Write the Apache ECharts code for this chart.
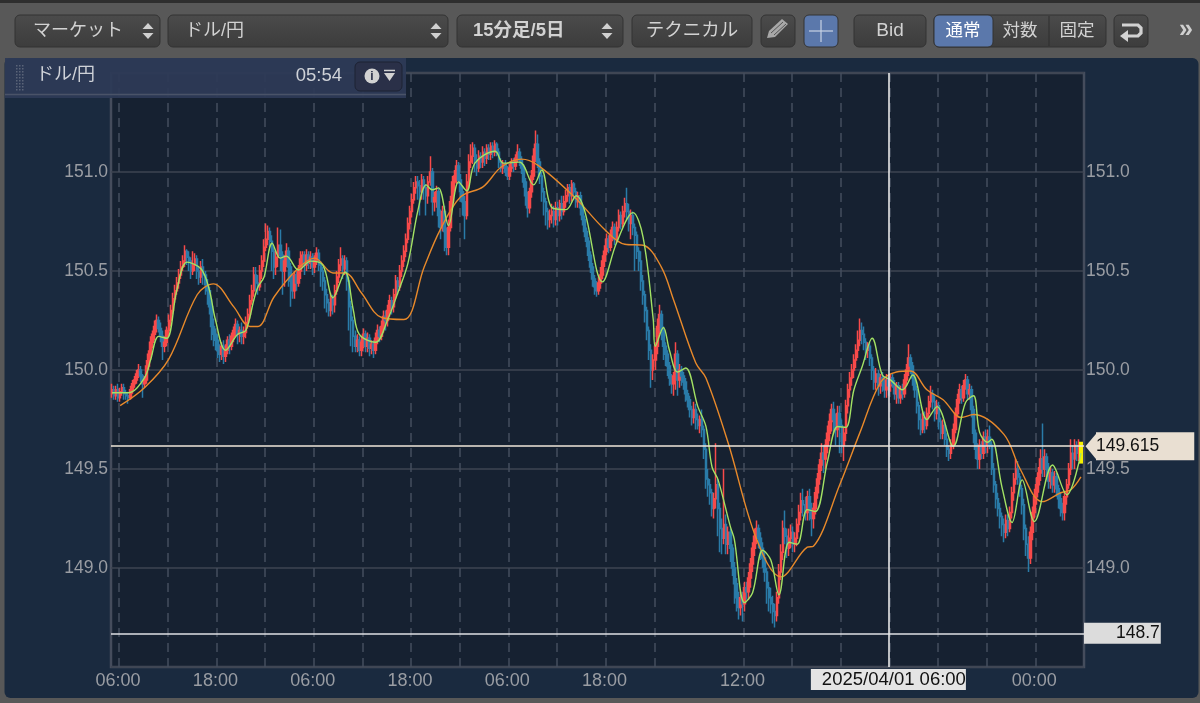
<!DOCTYPE html>
<html><head><meta charset="utf-8">
<style>html,body{margin:0;padding:0;background:#585858;overflow:hidden}#c{width:1200px;height:703px}</style>
<script src="https://cdn.jsdelivr.net/npm/echarts@6/dist/echarts.min.js"></script>
</head><body><div id="c"></div>
<script>
const opens=[
149.88,149.90,149.87,149.90,149.86,149.89,149.91,149.88,149.87,149.86,149.90,149.93,149.95,149.98,150.00,149.97,149.93,149.95,150.02,150.08,150.14,150.18,150.22,150.25,
150.21,150.17,150.12,150.14,150.20,150.25,150.30,150.36,150.40,150.44,150.48,150.52,150.55,150.60,150.57,150.55,150.50,150.53,150.56,150.50,150.47,150.52,150.48,150.43,
150.40,150.32,150.22,150.18,150.15,150.10,150.08,150.12,150.07,150.10,150.15,150.12,150.17,150.20,150.23,150.18,150.20,150.17,150.19,150.24,150.28,150.35,150.40,150.48,
150.44,150.42,150.50,150.55,150.62,150.66,150.70,150.65,150.60,150.52,150.57,150.63,150.58,150.50,150.55,150.60,150.52,150.45,150.40,150.48,150.44,150.50,150.56,150.58,
150.53,150.58,150.54,150.57,150.52,150.55,150.59,150.53,150.50,150.45,150.38,150.34,150.30,150.36,150.33,150.40,150.47,150.53,150.56,150.51,150.55,150.45,150.32,150.25,
150.17,150.12,150.15,150.10,150.14,150.18,150.12,150.16,150.11,150.13,150.10,150.16,150.20,150.17,150.22,150.27,150.25,150.30,150.35,150.32,150.38,150.45,150.42,150.50,
150.55,150.60,150.66,150.74,150.80,150.86,150.92,150.95,150.93,150.90,150.96,150.92,150.88,150.95,151.00,150.85,150.87,150.90,150.78,150.72,150.80,150.70,150.62,150.72,
150.85,150.95,150.98,151.03,150.96,150.90,150.85,150.78,150.95,151.05,151.08,151.12,151.06,151.02,151.08,151.05,151.10,151.07,151.12,151.09,151.13,151.10,151.14,151.10,
151.05,151.02,151.04,151.00,150.98,151.02,151.05,151.03,151.07,151.10,151.06,151.02,150.95,150.88,150.82,150.90,150.98,151.08,151.14,151.05,150.98,150.90,150.85,150.80,
150.76,150.78,150.80,150.76,150.82,150.78,150.84,150.80,150.85,150.88,150.92,150.88,150.94,150.90,150.85,150.88,150.82,150.76,150.70,150.65,150.58,150.52,150.46,150.42,
150.40,150.44,150.48,150.55,150.60,150.66,150.62,150.68,150.72,150.66,150.72,150.78,150.74,150.80,150.84,150.80,150.74,150.78,150.72,150.68,150.60,150.55,150.45,150.38,
150.30,150.20,150.10,150.00,150.05,150.12,150.22,150.28,150.20,150.12,150.08,150.02,149.96,149.93,149.97,150.08,149.95,150.00,149.97,149.94,149.88,149.85,149.80,149.76,
149.80,149.75,149.72,149.75,149.70,149.60,149.45,149.42,149.38,149.30,149.35,149.42,149.30,149.20,149.15,149.22,149.12,149.18,149.10,149.00,148.92,148.85,148.80,148.85,
148.82,148.90,148.88,148.95,149.02,149.10,149.16,149.20,149.15,149.10,149.05,148.98,148.90,148.85,148.82,148.78,148.76,148.85,148.98,149.08,149.20,149.16,149.10,149.15,
149.18,149.12,149.15,149.22,149.28,149.34,149.32,149.28,149.36,149.30,149.25,149.30,149.38,149.45,149.52,149.58,149.55,149.62,149.68,149.74,149.80,149.75,149.70,149.78,
149.72,149.62,149.68,149.82,149.90,149.96,150.00,150.05,150.10,150.15,150.20,150.18,150.14,150.10,150.12,150.06,150.00,149.94,149.98,149.92,149.96,149.94,149.90,149.95,
149.92,149.96,149.93,149.88,149.92,149.86,149.90,149.88,149.95,150.00,150.06,150.02,149.96,149.90,149.82,149.75,149.70,149.76,149.72,149.78,149.84,149.88,149.84,149.78,
149.82,149.74,149.68,149.72,149.65,149.60,149.58,149.62,149.70,149.78,149.85,149.90,149.86,149.92,149.95,149.88,149.90,149.80,149.68,149.60,149.55,149.62,149.58,149.66,
149.62,149.66,149.62,149.50,149.42,149.35,149.30,149.26,149.22,149.18,149.24,149.20,149.28,149.38,149.45,149.50,149.46,149.40,149.32,149.20,149.12,149.05,149.18,149.28,
149.36,149.42,149.48,149.55,149.50,149.56,149.50,149.44,149.48,149.42,149.46,149.40,149.35,149.30,149.28,149.36,149.42,149.50,149.58,149.55,149.62,149.58,149.63];
const closes=[
149.90,149.87,149.90,149.86,149.89,149.91,149.88,149.87,149.86,149.90,149.93,149.95,149.98,150.00,149.97,149.93,149.95,150.02,150.08,150.14,150.18,150.22,150.25,150.21,
150.17,150.12,150.14,150.20,150.25,150.30,150.36,150.40,150.44,150.48,150.52,150.55,150.60,150.57,150.55,150.50,150.53,150.56,150.50,150.47,150.52,150.48,150.43,150.40,
150.32,150.22,150.18,150.15,150.10,150.08,150.12,150.07,150.10,150.15,150.12,150.17,150.20,150.23,150.18,150.20,150.17,150.19,150.24,150.28,150.35,150.40,150.48,150.44,
150.42,150.50,150.55,150.62,150.66,150.70,150.65,150.60,150.52,150.57,150.63,150.58,150.50,150.55,150.60,150.52,150.45,150.40,150.48,150.44,150.50,150.56,150.58,150.53,
150.58,150.54,150.57,150.52,150.55,150.59,150.53,150.50,150.45,150.38,150.34,150.30,150.36,150.33,150.40,150.47,150.53,150.56,150.51,150.55,150.45,150.32,150.25,150.17,
150.12,150.15,150.10,150.14,150.18,150.12,150.16,150.11,150.13,150.10,150.16,150.20,150.17,150.22,150.27,150.25,150.30,150.35,150.32,150.38,150.45,150.42,150.50,150.55,
150.60,150.66,150.74,150.80,150.86,150.92,150.95,150.93,150.90,150.96,150.92,150.88,150.95,151.00,150.85,150.87,150.90,150.78,150.72,150.80,150.70,150.62,150.72,150.85,
150.95,150.98,151.03,150.96,150.90,150.85,150.78,150.95,151.05,151.08,151.12,151.06,151.02,151.08,151.05,151.10,151.07,151.12,151.09,151.13,151.10,151.14,151.10,151.05,
151.02,151.04,151.00,150.98,151.02,151.05,151.03,151.07,151.10,151.06,151.02,150.95,150.88,150.82,150.90,150.98,151.08,151.14,151.05,150.98,150.90,150.85,150.80,150.76,
150.78,150.80,150.76,150.82,150.78,150.84,150.80,150.85,150.88,150.92,150.88,150.94,150.90,150.85,150.88,150.82,150.76,150.70,150.65,150.58,150.52,150.46,150.42,150.40,
150.44,150.48,150.55,150.60,150.66,150.62,150.68,150.72,150.66,150.72,150.78,150.74,150.80,150.84,150.80,150.74,150.78,150.72,150.68,150.60,150.55,150.45,150.38,150.30,
150.20,150.10,150.00,150.05,150.12,150.22,150.28,150.20,150.12,150.08,150.02,149.96,149.93,149.97,150.08,149.95,150.00,149.97,149.94,149.88,149.85,149.80,149.76,149.80,
149.75,149.72,149.75,149.70,149.60,149.45,149.42,149.38,149.30,149.35,149.42,149.30,149.20,149.15,149.22,149.12,149.18,149.10,149.00,148.92,148.85,148.80,148.85,148.82,
148.90,148.88,148.95,149.02,149.10,149.16,149.20,149.15,149.10,149.05,148.98,148.90,148.85,148.82,148.78,148.76,148.85,148.98,149.08,149.20,149.16,149.10,149.15,149.18,
149.12,149.15,149.22,149.28,149.34,149.32,149.28,149.36,149.30,149.25,149.30,149.38,149.45,149.52,149.58,149.55,149.62,149.68,149.74,149.80,149.75,149.70,149.78,149.72,
149.62,149.68,149.82,149.90,149.96,150.00,150.05,150.10,150.15,150.20,150.18,150.14,150.10,150.12,150.06,150.00,149.94,149.98,149.92,149.96,149.94,149.90,149.95,149.92,
149.96,149.93,149.88,149.92,149.86,149.90,149.88,149.95,150.00,150.06,150.02,149.96,149.90,149.82,149.75,149.70,149.76,149.72,149.78,149.84,149.88,149.84,149.78,149.82,
149.74,149.68,149.72,149.65,149.60,149.58,149.62,149.70,149.78,149.85,149.90,149.86,149.92,149.95,149.88,149.90,149.80,149.68,149.60,149.55,149.62,149.58,149.66,149.62,
149.66,149.62,149.50,149.42,149.35,149.30,149.26,149.22,149.18,149.24,149.20,149.28,149.38,149.45,149.50,149.46,149.40,149.32,149.20,149.12,149.05,149.18,149.28,149.36,
149.42,149.48,149.55,149.50,149.56,149.50,149.44,149.48,149.42,149.46,149.40,149.35,149.30,149.28,149.36,149.42,149.50,149.58,149.55,149.62,149.58,149.63,149.535];
const highs=[
149.93,149.92,149.92,149.93,149.91,149.93,149.93,149.90,149.89,149.92,149.95,149.97,150.00,150.03,150.02,149.98,149.97,150.05,150.10,150.17,150.20,150.25,150.28,150.27,
150.24,150.20,150.17,150.22,150.28,150.33,150.39,150.43,150.47,150.51,150.55,150.58,150.63,150.61,150.60,150.57,150.60,150.59,150.58,150.52,150.55,150.56,150.50,150.46,
150.42,150.36,150.26,150.21,150.18,150.13,150.14,150.15,150.13,150.17,150.18,150.19,150.22,150.26,150.25,150.22,150.24,150.22,150.27,150.31,150.38,150.43,150.52,150.52,
150.48,150.53,150.58,150.66,150.74,150.73,150.72,150.68,150.62,150.60,150.72,150.71,150.60,150.58,150.64,150.62,150.54,150.48,150.50,150.50,150.53,150.60,150.60,150.60,
150.61,150.60,150.60,150.59,150.58,150.62,150.61,150.55,150.52,150.47,150.41,150.36,150.39,150.38,150.43,150.50,150.56,150.62,150.58,150.58,150.57,150.47,150.35,150.27,
150.20,150.18,150.17,150.17,150.21,150.20,150.19,150.18,150.15,150.15,150.19,150.23,150.22,150.25,150.30,150.30,150.33,150.38,150.37,150.41,150.48,150.47,150.53,150.58,
150.63,150.69,150.77,150.83,150.89,150.95,150.98,150.98,150.96,150.99,150.98,150.94,150.98,151.08,151.02,150.90,150.93,150.92,150.81,150.83,150.83,150.72,150.76,150.88,
150.98,151.01,151.06,151.05,150.99,150.93,150.88,150.99,151.09,151.14,151.15,151.14,151.09,151.11,151.10,151.13,151.12,151.14,151.14,151.15,151.15,151.16,151.15,151.12,
151.07,151.06,151.06,151.03,151.04,151.07,151.07,151.09,151.14,151.12,151.08,151.04,150.97,150.90,150.92,151.01,151.12,151.21,151.19,151.07,151.00,150.92,150.87,150.82,
150.81,150.84,150.83,150.85,150.85,150.86,150.88,150.88,150.91,150.94,150.94,150.96,150.95,150.92,150.90,150.90,150.84,150.78,150.72,150.67,150.60,150.54,150.48,150.45,
150.47,150.52,150.58,150.63,150.69,150.68,150.71,150.75,150.74,150.75,150.81,150.80,150.83,150.87,150.92,150.84,150.81,150.80,150.74,150.70,150.62,150.60,150.48,150.40,
150.32,150.22,150.13,150.08,150.14,150.26,150.33,150.30,150.22,150.14,150.10,150.04,149.98,149.99,150.14,150.10,150.03,150.02,149.99,149.96,149.90,149.87,149.82,149.84,
149.83,149.78,149.77,149.80,149.72,149.63,149.50,149.45,149.40,149.38,149.63,149.45,149.33,149.25,149.50,149.27,149.21,149.20,149.12,149.03,148.95,148.88,148.88,148.88,
148.93,148.93,148.98,149.05,149.13,149.20,149.24,149.22,149.18,149.13,149.08,149.00,148.93,148.90,148.86,148.82,148.88,149.02,149.12,149.24,149.29,149.20,149.20,149.22,
149.21,149.18,149.25,149.32,149.38,149.40,149.36,149.39,149.40,149.33,149.33,149.41,149.48,149.55,149.63,149.62,149.65,149.72,149.78,149.83,149.84,149.78,149.82,149.82,
149.75,149.71,149.85,149.93,149.99,150.03,150.08,150.13,150.20,150.26,150.24,150.22,150.16,150.14,150.14,150.08,150.02,150.01,150.00,149.98,149.99,149.97,149.98,149.97,
149.98,149.98,149.95,149.94,149.94,149.92,149.93,149.98,150.03,150.13,150.08,150.04,149.98,149.92,149.84,149.78,149.79,149.79,149.81,149.87,149.92,149.90,149.87,149.85,
149.84,149.76,149.75,149.74,149.68,149.62,149.65,149.73,149.81,149.88,149.93,149.92,149.95,149.98,149.97,149.93,149.92,149.82,149.70,149.63,149.65,149.64,149.69,149.70,
149.70,149.72,149.64,149.53,149.44,149.38,149.33,149.28,149.25,149.27,149.27,149.31,149.41,149.48,149.55,149.54,149.48,149.42,149.35,149.22,149.16,149.21,149.31,149.40,
149.46,149.51,149.60,149.73,149.60,149.58,149.53,149.51,149.50,149.49,149.48,149.42,149.38,149.33,149.39,149.45,149.53,149.65,149.62,149.65,149.64,149.65,149.63];
const lows=[
149.86,149.85,149.85,149.84,149.84,149.87,149.85,149.85,149.83,149.85,149.88,149.91,149.93,149.96,149.94,149.86,149.91,149.93,150.00,150.05,150.11,150.15,150.19,150.19,
150.14,150.05,150.09,150.12,150.17,150.22,150.28,150.34,150.38,150.41,150.46,150.50,150.52,150.53,150.50,150.46,150.48,150.50,150.46,150.43,150.44,150.43,150.38,150.33,
150.28,150.15,150.12,150.10,150.06,150.04,150.05,150.03,150.04,150.08,150.08,150.10,150.14,150.17,150.13,150.14,150.13,150.13,150.16,150.21,150.26,150.33,150.37,150.40,
150.38,150.40,150.46,150.52,150.60,150.63,150.62,150.50,150.46,150.48,150.52,150.50,150.38,150.42,150.52,150.42,150.32,150.36,150.36,150.40,150.42,150.46,150.52,150.48,
150.50,150.51,150.51,150.48,150.49,150.53,150.50,150.42,150.40,150.31,150.29,150.27,150.27,150.28,150.29,150.38,150.44,150.50,150.46,150.48,150.40,150.20,150.12,150.09,
150.09,150.09,150.07,150.07,150.11,150.09,150.09,150.07,150.08,150.06,150.08,150.13,150.14,150.15,150.19,150.20,150.22,150.27,150.28,150.29,150.36,150.38,150.40,150.47,
150.52,150.57,150.64,150.71,150.77,150.84,150.89,150.86,150.78,150.86,150.86,150.78,150.84,150.93,150.78,150.80,150.82,150.72,150.66,150.70,150.60,150.58,150.58,150.70,
150.82,150.90,150.94,150.94,150.85,150.78,150.66,150.76,150.92,151.02,151.04,151.00,150.98,151.00,151.02,151.02,151.03,151.04,151.06,151.06,151.07,151.08,151.08,151.02,
151.00,150.99,150.98,150.96,150.96,151.00,151.00,151.01,151.05,151.03,150.99,150.92,150.83,150.77,150.79,150.87,150.96,151.05,151.02,150.94,150.85,150.78,150.73,150.71,
150.72,150.74,150.72,150.73,150.73,150.75,150.76,150.78,150.82,150.85,150.84,150.85,150.86,150.82,150.82,150.78,150.73,150.67,150.62,150.55,150.49,150.42,150.38,150.37,
150.38,150.41,150.46,150.52,150.58,150.59,150.60,150.65,150.63,150.64,150.70,150.71,150.72,150.77,150.76,150.70,150.66,150.68,150.50,150.56,150.50,150.40,150.33,150.24,
150.15,150.05,149.91,149.95,150.00,150.08,150.18,150.15,150.05,150.02,149.97,149.92,149.88,149.87,149.90,149.87,149.91,149.92,149.90,149.84,149.81,149.76,149.72,149.73,
149.70,149.70,149.68,149.66,149.55,149.40,149.36,149.32,149.26,149.25,149.30,149.16,149.08,149.07,149.12,149.07,149.07,149.03,148.96,148.82,148.78,148.74,148.76,148.73,
148.78,148.84,148.84,148.90,148.98,149.06,149.12,149.10,149.04,149.00,148.93,148.82,148.78,148.77,148.72,148.70,148.73,148.82,148.94,149.04,149.12,149.05,149.06,149.10,
149.08,149.08,149.11,149.18,149.24,149.26,149.24,149.24,149.24,149.16,149.20,149.27,149.35,149.42,149.49,149.48,149.50,149.58,149.64,149.69,149.68,149.62,149.66,149.58,
149.58,149.54,149.64,149.78,149.86,149.92,149.96,150.01,150.06,150.12,150.13,150.10,150.05,150.06,150.02,149.95,149.90,149.90,149.87,149.88,149.89,149.86,149.86,149.87,
149.89,149.91,149.85,149.83,149.83,149.83,149.85,149.86,149.92,149.97,149.98,149.92,149.86,149.78,149.70,149.67,149.68,149.68,149.70,149.75,149.81,149.80,149.74,149.75,
149.70,149.65,149.65,149.62,149.56,149.54,149.55,149.60,149.68,149.76,149.83,149.83,149.84,149.90,149.85,149.85,149.76,149.63,149.55,149.50,149.50,149.55,149.55,149.58,
149.58,149.60,149.47,149.38,149.30,149.26,149.20,149.16,149.13,149.15,149.16,149.18,149.25,149.34,149.42,149.42,149.36,149.27,149.14,149.06,148.98,149.02,149.14,149.25,
149.32,149.38,149.44,149.46,149.46,149.46,149.40,149.40,149.38,149.38,149.36,149.30,149.26,149.24,149.24,149.32,149.40,149.47,149.50,149.50,149.54,149.54,149.535];

// moving averages: candle slot and price of each reading
const fastSlots=[0,8,16,19,23,27,32,37,44,48,51,56,62,66,70,72,75,79,83,86,92,98,104,109,115,119,122,130,136,141,146,151,155,158,161,166,171,175,179,189,193,201,208,212,217,224,229,233,242,249,257,262,267,268,272,275,279,283,289,293,296,299,305,307,312,316,321,325,329,334,338,343,347,353,358,362,366,370,375,380,384,390,395,402,407,415,421,425,428,432,434,439,444,449,455,464,471,478];
const fastValues=[149.885,149.885,149.96,150.05,150.17,150.16,150.405,150.545,150.51,150.405,150.255,150.10,150.18,150.20,150.355,150.42,150.47,150.64,150.565,150.575,150.505,150.55,150.53,150.365,150.495,150.305,150.18,150.14,150.255,150.39,150.54,150.81,150.935,150.91,150.92,150.73,150.95,150.905,151.045,151.105,151.045,151.05,150.935,151.01,150.82,150.81,150.88,150.81,150.445,150.645,150.795,150.67,150.255,150.12,150.215,150.10,149.99,150.01,149.815,149.715,149.51,149.445,149.21,149.145,148.825,148.875,149.09,149.04,148.865,149.13,149.12,149.295,149.285,149.54,149.715,149.71,149.90,150.015,150.16,149.975,149.95,149.90,149.975,149.75,149.815,149.615,149.835,149.87,149.685,149.635,149.65,149.41,149.23,149.445,149.235,149.52,149.37,149.58];
const slowSlots=[4,16,28,42,50,60,68,72,80,92,100,109,115,123,133,144,154,162,172,183,192,202,210,228,243,253,262,271,277,288,293,304,318,330,343,346,359,369,379,387,394,402,410,419,425,440,448,459,468,473,478];
const slowValues=[149.82,149.91,150.055,150.38,150.435,150.32,150.22,150.22,150.37,150.515,150.565,150.49,150.49,150.39,150.265,150.255,150.52,150.71,150.875,150.925,151.025,151.065,151.035,150.875,150.71,150.635,150.63,150.52,150.355,150.035,149.96,149.63,149.145,148.955,149.105,149.11,149.42,149.685,149.935,149.99,149.995,149.90,149.85,149.76,149.775,149.675,149.50,149.335,149.38,149.395,149.46];

const tickSlots=[3,51,99,147,195,243,311,455];
const tickLabels=['06:00','18:00','06:00','18:00','06:00','18:00','12:00','00:00'];
const dashSlots=[4,28,52,76,100,124,148,172,196,220,244,268,312,336,360,384,408,432,456];
const priceNow=149.615, crossPrice=148.67, crossPriceText='148.7', crossTime='2025/04/01 06:00';

// time slots: Wed 05:15 up to the Saturday close, then Monday 07:00 on
const pad=n=>String(n).padStart(2,'0');
const categories=[];
function addSession(startMs,count){for(let k=0;k<count;k++){const d=new Date(startMs+k*900000);
  categories.push(d.getUTCFullYear()+'/'+pad(d.getUTCMonth()+1)+'/'+pad(d.getUTCDate())+' '+pad(d.getUTCHours())+':'+pad(d.getUTCMinutes()));}}
addSession(Date.UTC(2025,2,26,5,15),291);
addSession(Date.UTC(2025,2,31,7,0),189);

const FONT='"Liberation Sans","Noto Sans CJK JP",sans-serif';
const RED='#f84a4a',BLUE='#2a7ba8',YEL='#f4f000';
const candleData=closes.map((c,i)=>{const v=[opens[i],c,lows[i],highs[i]];
  return i===closes.length-1?{value:v,itemStyle:{color:YEL,color0:YEL,borderColor:YEL,borderColor0:YEL,borderWidth:3}}:v;});

const g=[];
const grad=(a,b)=>({type:'linear',x:0,y:0,x2:0,y2:1,colorStops:[{offset:0,color:a},{offset:1,color:b}]});
function rect(x,y,w,h,fill,r,stroke,z){g.push({type:'rect',silent:true,z:z===undefined?50:z,shape:{x,y,width:w,height:h,r:r||0},style:{fill,stroke:stroke||null,lineWidth:stroke?1:0}});}
function text(x,y,s,o){o=o||{};g.push({type:'text',silent:true,z:o.z||52,x,y,style:{text:s,fill:o.fill||'#d2d2d2',font:(o.weight||'normal')+' '+(o.size||17.5)+'px '+FONT,textAlign:o.align||'left',textVerticalAlign:'middle'}});}
function poly(pts,fill,z){g.push({type:'polygon',silent:true,z:z||52,shape:{points:pts},style:{fill}});}
function pline(pts,color,w,z){g.push({type:'polyline',silent:true,z:z||52,shape:{points:pts},style:{stroke:color,lineWidth:w,fill:null}});}
function btn(x,w,fill){rect(x,15,w,32,fill||grad('#4b4b4b','#3c3c3c'),5,'#333333');}
function spinner(cx){poly([[cx-5.5,29],[cx+5.5,29],[cx,23]],'#d0d0d0');poly([[cx-5.5,33],[cx+5.5,33],[cx,39]],'#d0d0d0');}

rect(0,0,1200,703,'#585858',0,null,-20);
rect(0,0,1200,3,'#2e2e2e',0,null,-19);
rect(4.5,58,1194,640,'#1a2a3f',6,null,-18);

btn(15,145);text(33,31,'マーケット',{size:18});spinner(148);
btn(168,280);text(185,31,'ドル/円',{size:18});spinner(436);
btn(457,166);text(473,31,'15分足/5日',{weight:'bold',size:18.5});spinner(607);
btn(632,120);text(692,31,'テクニカル',{align:'center',size:18.5});
btn(761,34);poly([[767,38],[769,31],[782,19],[788,24],[775,37]],'#a8a8a8');pline([[771,33],[783,22]],'#555555',1);pline([[774,35],[786,24]],'#555555',1);
rect(804,15,34,32,'#5b78ab',5,'#333333');pline([[821,20],[821,42]],'#c9d3e4',1.2);pline([[809,31],[833,31]],'#c9d3e4',1.2);
btn(854,72);text(890,31,'Bid',{align:'center',size:19});
btn(934,172);rect(934,15,59,32,'#5b78ab',5,'#333333',51);
pline([[1049,16],[1049,46]],'#2e2e2e',1,51);
text(963,31,'通常',{align:'center',fill:'#ffffff'});text(1020,31,'対数',{align:'center'});text(1077,31,'固定',{align:'center'});
btn(1114,34);pline([[1122,25],[1138,25],[1141,28],[1141,33],[1138,36],[1127,36]],'#d2d2d2',3.2);poly([[1120,36],[1128,30],[1128,42]],'#d2d2d2');
text(1186,30,'»',{align:'center',size:25,fill:'#cfcfcf',weight:'bold'});

// info bar over the plot
rect(5,58,401,40,'rgba(45,58,86,0.95)',0,null,60);
pline([[5,94.5],[406,94.5]],'#4a5368',1.5,61);
for(let col=0;col<3;col++)for(let row=0;row<9;row++)rect(16+col*3,65+row*3,1.5,1.5,'#5a6478',0,null,61);
text(36,75,'ドル/円',{z:62,size:18,fill:'#cfd2d8'});
text(342,76,'05:54',{z:62,align:'right',size:18.5,fill:'#cfd2d8'});
rect(355,62,47,29,'#2a3048',5,'#1d2233',61);
g.push({type:'circle',silent:true,z:62,shape:{cx:372,cy:76,r:7.5},style:{fill:'#d2d2d2'}});
text(372,76.5,'i',{z:63,align:'center',size:12,weight:'bold',fill:'#2a3048'});
pline([[384,70.5],[395,70.5]],'#d2d2d2',1.5,62);poly([[384,73],[395,73],[389.5,81]],'#d2d2d2',62);

const chart=echarts.init(document.getElementById('c'));
const yLabel={color:'#9a9da3',fontSize:17.5,fontFamily:FONT,showMinLabel:false,showMaxLabel:false,formatter:v=>v.toFixed(1)};
const option={
 animation:false,backgroundColor:'#585858',
 grid:{left:111,right:116,top:73,bottom:36,show:true,backgroundColor:'#162131',borderColor:'#454c5c',borderWidth:2.5},
 xAxis:{type:'category',data:categories,boundaryGap:true,
  axisLine:{show:false},axisTick:{show:false},
  axisLabel:{color:'#9a9da3',fontSize:18,fontFamily:FONT,margin:5,interval:i=>tickSlots.includes(i),showMinLabel:true,showMaxLabel:true,hideOverlap:false,
   formatter:(v,i)=>tickLabels[tickSlots.indexOf(i)]||''},
  splitLine:{show:true,interval:i=>dashSlots.includes(i),lineStyle:{color:'#444e5e',width:1.5,type:[9,6]}}},
 yAxis:[
  {type:'value',min:148.5,max:151.5,interval:0.5,position:'left',axisLine:{show:false},axisTick:{show:false},axisLabel:{...yLabel,margin:3},splitLine:{show:true,lineStyle:{color:'#3e4552',width:1.5}}},
  {type:'value',min:148.5,max:151.5,interval:0.5,position:'right',axisLine:{show:false},axisTick:{show:false},axisLabel:{...yLabel,margin:2},splitLine:{show:false}}],
 series:[
  {type:'candlestick',name:'ドル/円',data:candleData,barWidth:2,z:3,
   itemStyle:{color:RED,color0:BLUE,borderColor:RED,borderColor0:BLUE,borderWidth:1.5}},
  {type:'line',name:'MA short',data:fastSlots.map((s,i)=>[s,fastValues[i]]),smooth:0.35,showSymbol:false,symbol:'none',z:5,lineStyle:{color:'#a3e264',width:1.4}},
  {type:'line',name:'MA long',data:slowSlots.map((s,i)=>[s,slowValues[i]]),smooth:0.35,showSymbol:false,symbol:'none',z:4,lineStyle:{color:'#e8892a',width:1.4},
   markLine:{silent:true,symbol:'none',animation:false,precision:3,z:6,data:[
    {yAxis:priceNow,lineStyle:{color:'#f1e7da',width:1.6,type:'solid'},
     label:{show:true,position:'end',distance:12,formatter:'149.615',color:'#111',fontSize:17.5,fontFamily:FONT,backgroundColor:'#e9dfd2',padding:[5,35,5,0],lineHeight:18}},
    {yAxis:crossPrice,lineStyle:{color:'#dfe1e4',width:1.6,type:'solid'},
     label:{show:true,position:'end',distance:0,formatter:crossPriceText,color:'#111',fontSize:17.5,fontFamily:FONT,backgroundColor:'#dcdcdc',padding:[2,1,1,32],lineHeight:18}},
    {xAxis:crossTime,lineStyle:{color:'#e8e8e8',width:1.6,type:'solid'},
     label:{show:true,position:'start',distance:2,formatter:crossTime,color:'#111',fontSize:18.5,fontFamily:FONT,backgroundColor:'#e4e4e4',padding:[2,0,1,11],lineHeight:18}}
   ]}}
 ],
 graphic:{elements:g}
};
chart.setOption(option);
// arrow head of the current-price tag, placed through the axis scale
const yNow=chart.convertToPixel({yAxisIndex:0},priceNow);
g.push({type:'polygon',silent:true,z:60,shape:{points:[[1085.5,yNow],[1097,yNow-13.5],[1097,yNow+14]]},style:{fill:'#e9dfd2'}});
chart.setOption({graphic:{elements:g}});
</script></body></html>
